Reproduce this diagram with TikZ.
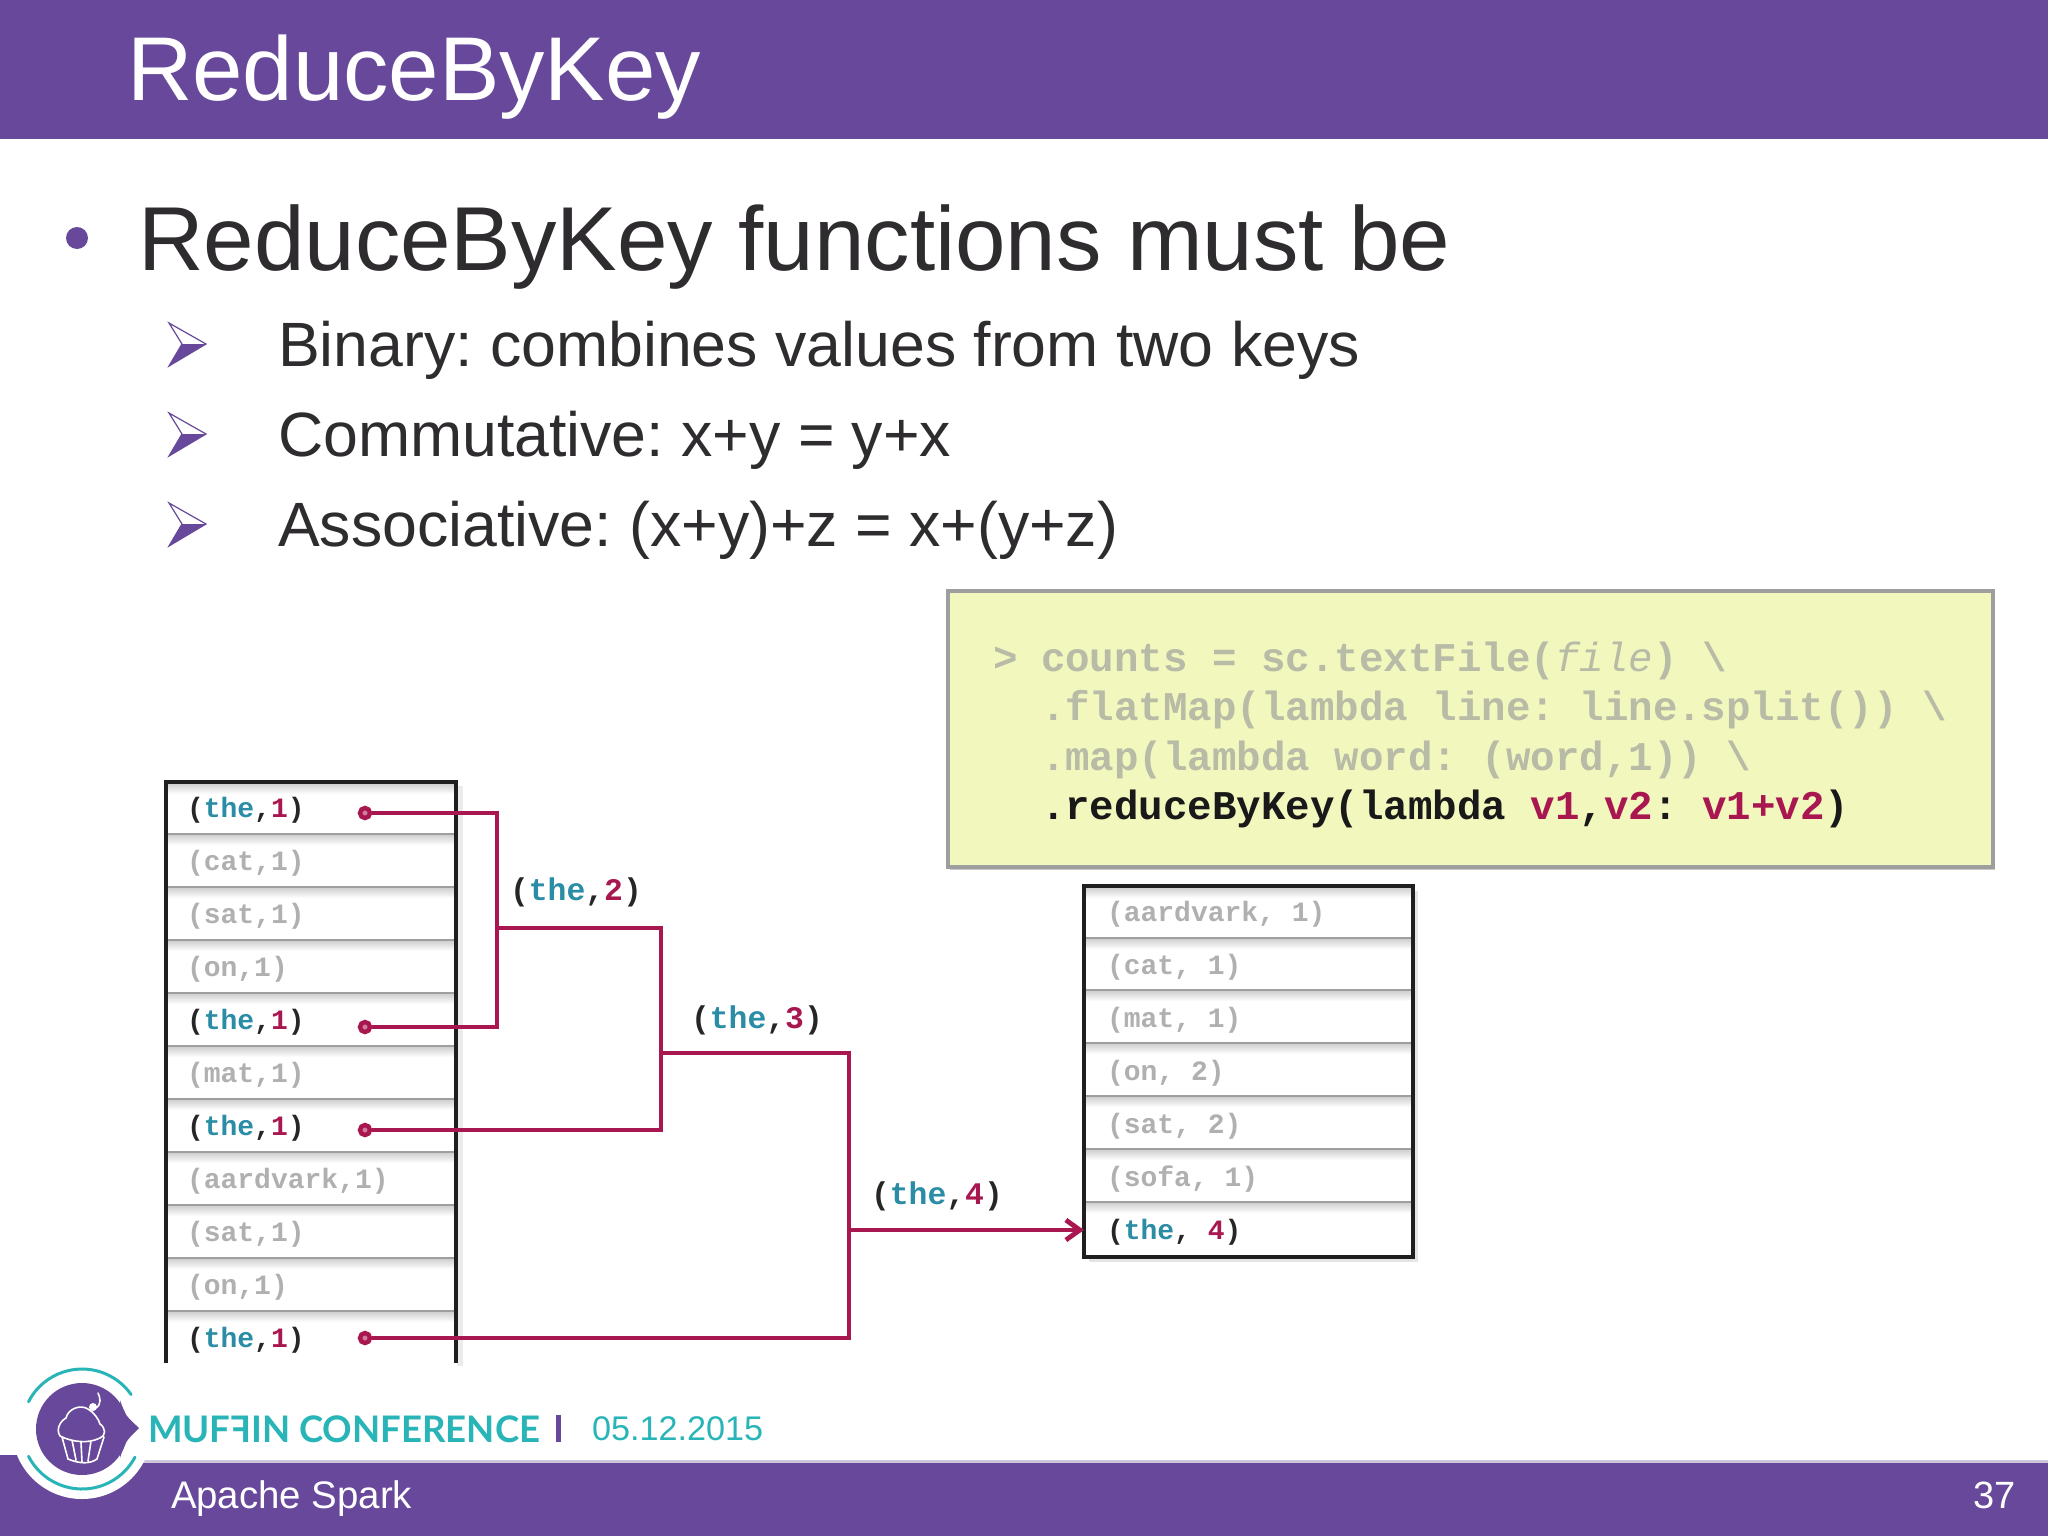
\documentclass[tikz,border=0pt]{standalone}
\usepackage{fontspec}
\usepackage{graphicx}
\setmainfont{Liberation Sans}
\setmonofont{Liberation Mono}
\newfontfamily\logofont{Lato}
\usetikzlibrary{arrows.meta,calc}
\definecolor{spurple}{HTML}{67489B}
\definecolor{stext}{HTML}{2E2C2E}
\definecolor{steal}{HTML}{29B5B8}
\definecolor{sred}{HTML}{A8174F}
\definecolor{skey}{HTML}{2A8CA5}
\definecolor{smute}{HTML}{B0B0B0}
\definecolor{scode}{HTML}{B8BBA6}
\definecolor{syellow}{HTML}{F2F7BE}
\newcommand{\fs}[1]{\fontsize{#1}{#1}\selectfont}
\newcommand{\hot}[2]{\textcolor{black!85}{(}\textcolor{skey}{the}\textcolor{black!85}{,#1}\textcolor{sred}{#2}\textcolor{black!85}{)}}
\frenchspacing
\tikzset{
  x=0.5pt,y=-0.5pt,
  txt/.style={anchor=base west,inner sep=0pt,outer sep=0pt},
  titletxt/.style={txt,text=white,font=\fs{45.3}},
  maintxt/.style={txt,text=stext,font=\frenchspacing\fs{45.4}},
  subtxt/.style={txt,text=stext,font=\frenchspacing\fs{31.3}},
  codetxt/.style={txt,text=scode,font=\ttfamily\bfseries\fs{20.4}},
  rowmute/.style={txt,text=smute,font=\ttfamily\bfseries\fs{14}},
  rowhot/.style={txt,font=\ttfamily\bfseries\fs{14}},
  sumlabel/.style={txt,font=\ttfamily\bfseries\fs{15.7}},
  tblline/.style={line width=2pt,black!88},
  sepline/.style={line width=0.9pt,black!38},
  conn/.style={line width=2.4pt,sred},
  conndot/.style={circle,draw=sred,line width=2.2pt,fill=sred!55,inner sep=0pt,minimum size=5pt},
  arrowmark/.style={spurple,line width=0.6pt,line join=miter},
  sepshade/.style={top color=black!20,bottom color=white,draw=none},
}
\begin{document}
\begin{tikzpicture}
\useasboundingbox (0,0) rectangle (2048,1536);
\fill[white] (0,0) rectangle (2048,1536);
% header
\fill[spurple] (0,0) rectangle (2048,139);
\node[titletxt] (title) at (127,100) {ReduceByKey};
% bullets
\fill[spurple] (77,238) circle[radius=5.5pt];
\node[maintxt] (main) at (138,270) {ReduceByKey functions must be};
\foreach \dy/\name/\t in {0/a/{Binary: combines values from two keys},90/b/{Commutative: x+y = y+x},180/c/{Associative: (x+y)+z = x+(y+z)}}{
  \fill[spurple] (182,344+\dy) -- (206,344+\dy) -- (169,366+\dy) -- cycle;
  \draw[arrowmark] (206,344+\dy) -- (169,323+\dy) -- (182,344+\dy) -- (169,366+\dy) -- cycle;
  \node[subtxt] (sub\name) at (278,366+\dy) {\t};
}
% code box
\fill[black!22] (950,594) rectangle (1995,870);
\node[draw=black!38,line width=2pt,fill=syellow,minimum width=522.5pt,minimum height=138pt,inner sep=0pt,anchor=north west] (codebox) at (946,589) {};
\node[codetxt] (c0) at (993,671) {>};
\node[codetxt] (c1) at (1041,671) {counts = sc.textFile(\textmd{\itshape file}) \textbackslash};
\node[codetxt] (c2) at (1041,720) {.flatMap(lambda line: line.split()) \textbackslash};
\node[codetxt] (c3) at (1041,770) {.map(lambda word: (word,1)) \textbackslash};
\node[codetxt,text=black!90] (c4) at (1041,819) {.reduceByKey(lambda \textcolor{sred}{v1},\textcolor{sred}{v2}: \textcolor{sred}{v1+v2})};
% left table
\fill[black!8] (457,786) rectangle (463,1366);
\foreach \s in {834,887,...,1311}{
  \shade[sepshade] (168,\s) rectangle (455,\s+11);
  \draw[sepline] (167,\s) -- (456,\s);
}
\shade[sepshade] (168,783) rectangle (455,794);
\draw[tblline,line cap=butt] (166,1363) -- (166,782) -- (456,782) -- (456,1363);
\node[rowhot] (l1) at (187,817) {\hot{}{1}};
\node[rowmute] (l2) at (187,870) {(cat,1)};
\node[rowmute] (l3) at (187,923) {(sat,1)};
\node[rowmute] (l4) at (187,976) {(on,1)};
\node[rowhot] (l5) at (187,1029) {\hot{}{1}};
\node[rowmute] (l6) at (187,1082) {(mat,1)};
\node[rowhot] (l7) at (187,1135) {\hot{}{1}};
\node[rowmute] (l8) at (187,1188) {(aardvark,1)};
\node[rowmute] (l9) at (187,1241) {(sat,1)};
\node[rowmute] (l10) at (187,1294) {(on,1)};
\node[rowhot] (l11) at (187,1347) {\hot{}{1}};
% right table
\fill[black!10] (1089,891) rectangle (1418,1262);
\node[fill=white,outer sep=0pt,minimum width=164.5pt,minimum height=185.5pt,inner sep=0pt,anchor=north west] (rtbl) at (1084,886) {};
\foreach \s in {938,990,1043,1096,1149,1202}{
  \shade[sepshade] (1086,\s) rectangle (1411,\s+11);
  \draw[sepline] (1085,\s) -- (1412,\s);
}
\shade[sepshade] (1086,887) rectangle (1411,898);
\node[rowmute] (r1) at (1107,921) {(aardvark, 1)};
\node[rowmute] (r2) at (1107,974) {(cat, 1)};
\node[rowmute] (r3) at (1107,1027) {(mat, 1)};
\node[rowmute] (r4) at (1107,1080) {(on, 2)};
\node[rowmute] (r5) at (1107,1133) {(sat, 2)};
\node[rowmute] (r6) at (1107,1186) {(sofa, 1)};
\node[rowhot] (r7) at (1107,1239) {\hot{ }{4}};
\draw[tblline] (rtbl.north west) rectangle (rtbl.south east);
% connectors
\node[conndot] (d1) at (365,813) {};
\node[conndot] (d2) at (365,1027) {};
\node[conndot] (d3) at (365,1130) {};
\node[conndot] (d4) at (365,1338) {};
\coordinate (b1) at (497,928);
\coordinate (b2) at (661,1053);
\coordinate (b3) at (849,1230);
\draw[conn,line join=miter] (d1) -| (b1) |- (d2);
\draw[conn,line join=miter] (b1) -| (b2) |- (d3);
\draw[conn,line join=miter] (b2) -| (b3) |- (d4);
\draw[conn,-{Straight Barb[length=7pt,width=10pt,line width=2.4pt]}] (b3) -- (b3 -| rtbl.west);
\node[sumlabel] (s2) at (510,900) {\hot{}{2}};
\node[sumlabel] (s3) at (691,1028) {\hot{}{3}};
\node[sumlabel] (s4) at (871,1204) {\hot{}{4}};
% footer
\fill[spurple] (0,1455) rectangle (40,1536);
\fill[spurple] (0,1462) rectangle (2048,1536);
\fill[black!10!spurple!30] (100,1460) rectangle (2048,1463);
\node[txt,text=white,font=\fs{19.2}] (ft) at (171,1508) {Apache Spark};
\node[anchor=base east,inner sep=0pt,text=white,font=\fs{19}] (pg) at (2016,1508) {37};
% logo
\coordinate (lg) at (82,1429);
\fill[white] (lg) circle[radius=35pt];
\fill[white] (lg) ++(0,-40) circle[radius=34pt];
\draw[steal,line width=1.5pt,line cap=round] (lg) ++(153:30pt) arc[start angle=153,end angle=35,radius=30pt];
\draw[steal,line width=1.5pt,line cap=round] (lg) ++(207:30pt) arc[start angle=207,end angle=332,radius=30pt];
\fill[spurple] (lg) circle[radius=23pt];
\fill[spurple] (120,1400) .. controls (125,1415) .. (139,1428) .. controls (125,1442) .. (120,1458) -- cycle;
\draw[white,line width=0.8pt,line join=round,line cap=round]
  (62,1437) -- (68,1459) .. controls (80,1464) and (90,1464) .. (97,1459) -- (104,1437)
  (60,1436) .. controls (55,1428) and (62,1420) .. (66,1418) .. controls (68,1409) and (80,1404) .. (88,1409) .. controls (94,1412) and (99,1420) .. (100,1424) .. controls (106,1428) and (106,1436) .. (100,1438) .. controls (88,1444) and (72,1442) .. (60,1436)
  (72,1440) -- (76,1460) (81,1442) -- (82,1462) (91,1441) -- (88,1461)
  (96,1408) .. controls (102,1404) and (100,1397) .. (98,1393);
\fill[white] (93,1407) circle[radius=2pt];
\node[txt,text=steal,font=\logofont\bfseries\fs{18.3}] (mf) at (148,1442) {MUF\reflectbox{F}IN CONFERENCE};
\fill[spurple] (556,1415) rectangle (561,1442);
\node[txt,text=steal,font=\fs{17.1}] (dt) at (592,1440) {05.12.2015};
\end{tikzpicture}
\end{document}
